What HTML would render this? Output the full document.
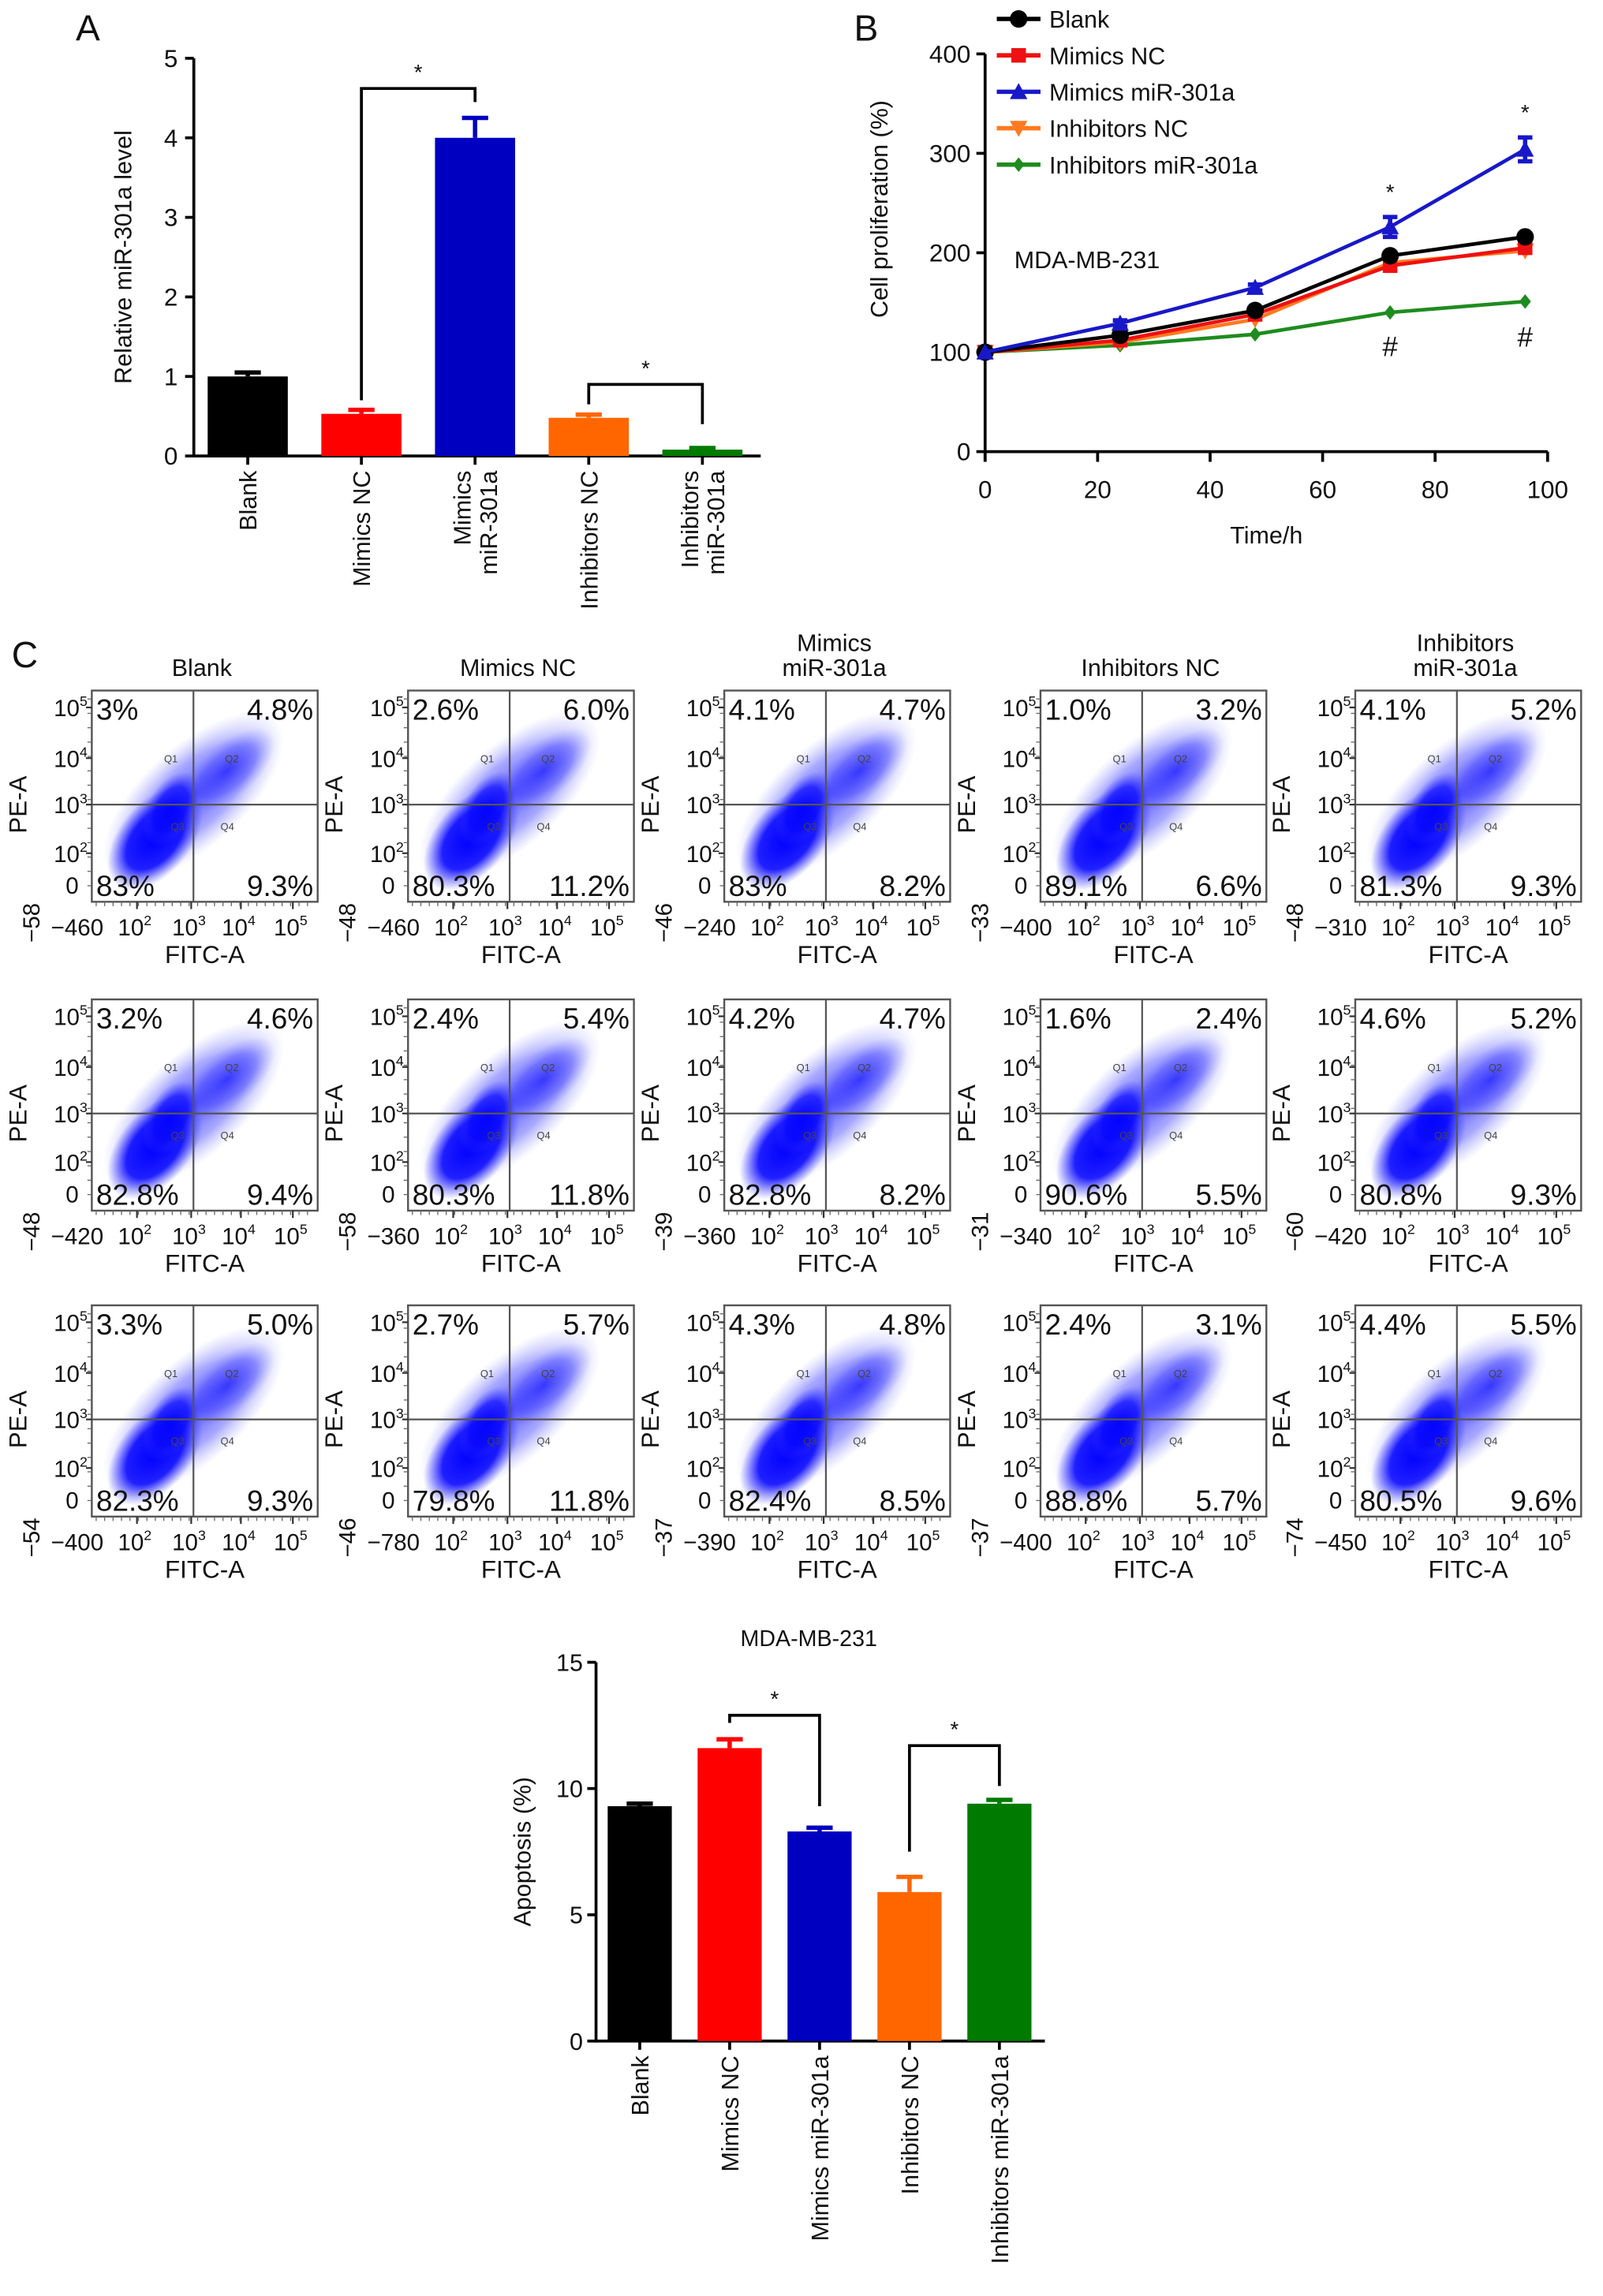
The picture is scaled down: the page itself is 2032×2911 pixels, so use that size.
<!DOCTYPE html>
<html><head><meta charset="utf-8"><style>
html,body{margin:0;padding:0;background:#fff;}
svg{display:block;font-family:"Liberation Sans",Arial,sans-serif;}
</style></head><body>
<svg id="fig" width="2032" height="2911" viewBox="0 0 1100 1576" preserveAspectRatio="none" xmlns="http://www.w3.org/2000/svg">
<defs>
<radialGradient id="core" cx="50%" cy="50%" r="50%"><stop offset="0" stop-color="#0000ff" stop-opacity="1"/><stop offset="0.6" stop-color="#0a0aff" stop-opacity="0.9"/><stop offset="1" stop-color="#3a3aff" stop-opacity="0"/></radialGradient>
<radialGradient id="halo" cx="50%" cy="50%" r="50%"><stop offset="0" stop-color="#1a1aff" stop-opacity="0.75"/><stop offset="0.6" stop-color="#4040ff" stop-opacity="0.45"/><stop offset="1" stop-color="#8080ff" stop-opacity="0"/></radialGradient>
</defs>
</svg>
<script>
// ---------- data ----------
const catsA = ["Blank","Mimics NC","Mimics miR-301a","Inhibitors NC","Inhibitors miR-301a"];
const valsA = [1.0, 0.53, 4.0, 0.48, 0.08];
const errA  = [0.05, 0.05, 0.25, 0.04, 0.02];
const ticksA = [0,1,2,3,4,5];
const colorsA = ["#000000","#ff0000","#0000c0","#ff6600","#007a00"];

const timesB = [0,24,48,72,96];
const blankB = [100,117,142,197,216];
const mimNCB = [100,112,138,187,205];
const mimMiB = [100,129,165,226,304];
const inhNCB = [100,110,133,190,202];
const inhMiB = [100,107,118,140,151];
const errMiB = [0,3,3,10,12];
const ticksBy = [0,100,200,300,400];
const ticksBx = [0,20,40,60,80,100];
const namesB = ["Blank","Mimics NC","Mimics miR-301a","Inhibitors NC","Inhibitors miR-301a"];

const flowTitles = [["Blank"],["Mimics NC"],["Mimics","miR-301a"],["Inhibitors NC"],["Inhibitors","miR-301a"]];
const flowQ1 = [["3%","2.6%","4.1%","1.0%","4.1%"],["3.2%","2.4%","4.2%","1.6%","4.6%"],["3.3%","2.7%","4.3%","2.4%","4.4%"]];
const flowQ2 = [["4.8%","6.0%","4.7%","3.2%","5.2%"],["4.6%","5.4%","4.7%","2.4%","5.2%"],["5.0%","5.7%","4.8%","3.1%","5.5%"]];
const flowQ3 = [["83%","80.3%","83%","89.1%","81.3%"],["82.8%","80.3%","82.8%","90.6%","80.8%"],["82.3%","79.8%","82.4%","88.8%","80.5%"]];
const flowQ4 = [["9.3%","11.2%","8.2%","6.6%","9.3%"],["9.4%","11.8%","8.2%","5.5%","9.3%"],["9.3%","11.8%","8.5%","5.7%","9.6%"]];
const flowYmin = [["58","48","46","33","48"],["48","58","39","31","60"],["54","46","37","37","74"]];
const flowXmin = [["46","46","24","40","31"],["42","36","36","34","42"],["40","78","39","40","45"]];

const catsD = ["Blank","Mimics NC","Mimics miR-301a","Inhibitors NC","Inhibitors miR-301a"];
const valsD = [9.3, 11.6, 8.3, 5.9, 9.4];
const errD  = [0.1, 0.35, 0.15, 0.6, 0.15];
const ticksD = [0,5,10,15];

// ---------- helpers ----------
const svg = document.getElementById('fig');
const NS = "http://www.w3.org/2000/svg";
function el(tag, attrs, parent){
  const e = document.createElementNS(NS, tag);
  for (const k in attrs) e.setAttribute(k, attrs[k]);
  (parent||svg).appendChild(e);
  return e;
}
function txt(s, x, y, size, anchor, parent, extra){
  const t = el('text', Object.assign({x:x,y:y,'font-size':size,'text-anchor':anchor||'start',fill:'#111'}, extra||{}), parent);
  t.textContent = s;
  return t;
}
function group(name){
  const g = el('g', {});
  
  
  return g;
}

// panel letters
[["A",52,28],["B",586,28],["C",8,458]].forEach(p=>{
  const t = txt(p[0], p[1], p[2], 25, 'start');
  
  
});

// ---------- Panel A ----------
(function(){
  const g = group('panel-a-bar-chart');
  const x0 = 133, yTop = 40, yBot = 313, max = 5;
  const y = v => yBot - (v/max)*(yBot-yTop);
  const xc = i => 170 + i*78;
  const bw = 55;
  el('line',{x1:x0,y1:yTop,x2:x0,y2:yBot+1,stroke:'#000','stroke-width':2},g);
  el('line',{x1:x0,y1:yBot,x2:522,y2:yBot,stroke:'#000','stroke-width':2},g);
  ticksA.forEach(t=>{
    el('line',{x1:x0-6,y1:y(t),x2:x0,y2:y(t),stroke:'#000','stroke-width':2},g);
    txt(String(t), x0-11, y(t)+6, 17, 'end', g);
  });
  const yt = txt("Relative miR-301a level", 0, 0, 16.5, 'middle', g, {transform:`translate(90,${(yTop+yBot)/2}) rotate(-90)`});
  
  valsA.forEach((v,i)=>{
    const c = xc(i);
    const top = y(v+errA[i]);
    el('line',{x1:c,y1:y(v),x2:c,y2:top,stroke:colorsA[i],'stroke-width':3},g);
    el('line',{x1:c-9,y1:top,x2:c+9,y2:top,stroke:colorsA[i],'stroke-width':3},g);
    const r = el('rect',{x:c-bw/2,y:y(v),width:bw,height:yBot-y(v),fill:colorsA[i]},g);
    
    
    el('line',{x1:c,y1:yBot,x2:c,y2:yBot+6,stroke:'#000','stroke-width':2},g);
  });
  const labA = [["Blank"],["Mimics NC"],["Mimics","miR-301a"],["Inhibitors NC"],["Inhibitors","miR-301a"]];
  labA.forEach((lines,i)=>{
    const c = xc(i);
    lines.forEach((s,j)=>{
      const off = lines.length===1 ? 6 : (j===0 ? -3 : 15);
      const t = txt(s, 0, 0, 16.5, 'end', g, {transform:`translate(${c+off},${yBot+10}) rotate(-90)`});
      
      
    });
  });
  function bracket(i1,i2,yb,l1,l2){
    el('polyline',{points:`${xc(i1)},${y(l1)} ${xc(i1)},${y(yb)} ${xc(i2)},${y(yb)} ${xc(i2)},${y(l2)}`,fill:'none',stroke:'#000','stroke-width':2},g);
    txt("*", (xc(i1)+xc(i2))/2, y(yb)-6, 15, 'middle', g);
  }
  bracket(1,2,4.62,0.7,4.45);
  bracket(3,4,0.9,0.65,0.4);
})();

// ---------- Panel B ----------
(function(){
  const g = group('panel-b-line-chart');
  const x0 = 676, x1 = 1062, yTop = 37, yBot = 310;
  const X = v => x0 + v/100*(x1-x0);
  const Y = v => yBot - v/400*(yBot-yTop);
  el('line',{x1:x0,y1:yTop,x2:x0,y2:yBot+7,stroke:'#000','stroke-width':2},g);
  el('line',{x1:x0-1,y1:yBot,x2:x1,y2:yBot,stroke:'#000','stroke-width':2},g);
  ticksBy.forEach(t=>{
    el('line',{x1:x0-6,y1:Y(t),x2:x0,y2:Y(t),stroke:'#000','stroke-width':2},g);
    txt(String(t), x0-10, Y(t)+6, 17, 'end', g);
  });
  ticksBx.forEach(t=>{
    el('line',{x1:X(t),y1:yBot,x2:X(t),y2:yBot+7,stroke:'#000','stroke-width':2},g);
    txt(String(t), X(t), yBot+32, 17, 'middle', g);
  });
  const xt = txt("Time/h", (x0+x1)/2, yBot+63, 16.5, 'middle', g); 
  const yt = txt("Cell proliferation (%)", 0, 0, 16.5, 'middle', g, {transform:`translate(609,${(yTop+yBot)/2-30}) rotate(-90)`});
  
  txt("MDA-MB-231", 696, 184, 16.5, 'start', g);

  function marker(kind, cx, cy, color, parent){
    if(kind==='circle') return el('circle',{cx:cx,cy:cy,r:6,fill:color},parent);
    if(kind==='square') return el('rect',{x:cx-5,y:cy-5,width:10,height:10,fill:color},parent);
    if(kind==='tri') return el('polygon',{points:`${cx},${cy-6} ${cx-6},${cy+5} ${cx+6},${cy+5}`,fill:color},parent);
    if(kind==='itri') return el('polygon',{points:`${cx},${cy+6} ${cx-6},${cy-5} ${cx+6},${cy-5}`,fill:color},parent);
    return el('polygon',{points:`${cx},${cy-5} ${cx+4},${cy} ${cx},${cy+5} ${cx-4},${cy}`,fill:color},parent);
  }
  const series = [
    {vals:inhMiB,color:'#1e8c1e',m:'diamond',name:namesB[4]},
    {vals:inhNCB,color:'#ff7a20',m:'itri',name:namesB[3]},
    {vals:mimNCB,color:'#ee1111',m:'square',name:namesB[1]},
    {vals:blankB,color:'#000000',m:'circle',name:namesB[0]},
    {vals:mimMiB,color:'#1818c8',m:'tri',name:namesB[2]}
  ];
  series.forEach(s=>{
    const sg = el('g',{},g);
    
    
    el('polyline',{points:timesB.map((t,i)=>X(t)+','+Y(s.vals[i])).join(' '),fill:'none',stroke:s.color,'stroke-width':2.5},sg);
    timesB.forEach((t,i)=>{
      if(s.vals===mimMiB && errMiB[i]>2){
        const cx=X(t);
        el('line',{x1:cx,y1:Y(s.vals[i]+errMiB[i]),x2:cx,y2:Y(s.vals[i]-errMiB[i]),stroke:s.color,'stroke-width':3},sg);
        el('line',{x1:cx-5,y1:Y(s.vals[i]+errMiB[i]),x2:cx+5,y2:Y(s.vals[i]+errMiB[i]),stroke:s.color,'stroke-width':3},sg);
        el('line',{x1:cx-5,y1:Y(s.vals[i]-errMiB[i]),x2:cx+5,y2:Y(s.vals[i]-errMiB[i]),stroke:s.color,'stroke-width':3},sg);
      }
      marker(s.m, X(t), Y(s.vals[i]), s.color, sg);
    });
  });
  txt("*", X(72), Y(mimMiB[3]+errMiB[3])-12, 15, 'middle', g);
  txt("*", X(96), Y(mimMiB[4]+errMiB[4])-12, 15, 'middle', g);
  txt("#", X(72), Y(inhMiB[3])+30, 19, 'middle', g);
  txt("#", X(96), Y(inhMiB[4])+31, 19, 'middle', g);
  const lg = el('g',{},g);
  
  
  const legOrder = [3,2,4,1,0];
  legOrder.forEach((si,row)=>{
    const s = series[si];
    const ly = 13 + row*25;
    const eg = el('g',{},lg);
    
    
    el('line',{x1:684,y1:ly,x2:714,y2:ly,stroke:s.color,'stroke-width':3},eg);
    marker(s.m, 699, ly, s.color, eg);
    txt(s.name, 720, ly+6, 16.5, 'start', eg);
  });
})();

// ---------- Panel C flow plots ----------
(function(){
  const g = group('panel-c-flow-cytometry');
  const lefts = [63,280,497,714,930];
  const tops = [474,686,896];
  const W = 155, H = 145;
  flowTitles.forEach((lines,c)=>{
    const cx = lefts[c] + W/2 - 2;
    lines.forEach((s,j)=>{
      const t = txt(s, cx, lines.length===1 ? 464 : 447 + j*17, 16.5, 'middle', g);
      
      
    });
  });
  function pow(parent,x,y,e,anchor,size){
    const t = el('text',{x:x,y:y,'font-size':size,'text-anchor':anchor,fill:'#111'},parent);
    const a = el('tspan',{},t); a.textContent='10';
    const b = el('tspan',{dy:-7,'font-size':size*0.6},t); b.textContent=String(e);
    return t;
  }
  tops.forEach((top,r)=>{
    lefts.forEach((left,c)=>{
      const pg = el('g',{},g);
      
      
      const ccx = left + W*0.28, ccy = top + H*0.7;
      el('ellipse',{cx:left+W*0.45,cy:top+H*0.5,rx:W*0.5,ry:H*0.24,fill:'url(#halo)',transform:`rotate(-42 ${left+W*0.45} ${top+H*0.5})`},pg);
      el('ellipse',{cx:left+W*0.6,cy:top+H*0.38,rx:W*0.26,ry:H*0.13,fill:'url(#halo)',transform:`rotate(-40 ${left+W*0.6} ${top+H*0.38})`},pg);
      el('ellipse',{cx:ccx,cy:ccy,rx:W*0.27,ry:H*0.17,fill:'url(#core)',transform:`rotate(-50 ${ccx} ${ccy})`},pg);
      el('ellipse',{cx:ccx+W*0.07,cy:ccy-H*0.14,rx:W*0.18,ry:H*0.11,fill:'url(#core)',opacity:0.8,transform:`rotate(-60 ${ccx+W*0.07} ${ccy-H*0.14})`},pg);
      el('rect',{x:left,y:top,width:W,height:H,fill:'none',stroke:'#555','stroke-width':1.3},pg);
      const qx = left + W*0.45, qy = top + H*0.54;
      el('line',{x1:qx,y1:top,x2:qx,y2:top+H,stroke:'#555','stroke-width':1.2},pg);
      el('line',{x1:left,y1:qy,x2:left+W,y2:qy,stroke:'#555','stroke-width':1.2},pg);
      [["Q1",0.35,0.34],["Q2",0.62,0.34],["Q3",0.38,0.66],["Q4",0.6,0.66]].forEach(q=>{
        txt(q[0], left+W*q[1], top+H*q[2], 7, 'middle', pg, {fill:'#444'});
      });
      txt(flowQ1[r][c], left+3, top+20, 20, 'start', pg);
      txt(flowQ2[r][c], left+W-3, top+20, 20, 'end', pg);
      txt(flowQ3[r][c], left+3, top+H-4, 20, 'start', pg);
      txt(flowQ4[r][c], left+W-3, top+H-4, 20, 'end', pg);
      const yPos = [[5,0.08],[4,0.32],[3,0.54],[2,0.77]];
      yPos.forEach(p=>{
        pow(pg, left-3, top+H*p[1]+6, p[0], 'end', 16);
        el('line',{x1:left-4,y1:top+H*p[1],x2:left,y2:top+H*p[1],stroke:'#333','stroke-width':1.2},pg);
      });
      txt("0", left-9, top+H*0.92+6, 16, 'end', pg);
      for(let k=0;k<14;k++){
        el('line',{x1:left-3,y1:top+H*(0.04+k*0.068),x2:left,y2:top+H*(0.04+k*0.068),stroke:'#666','stroke-width':0.7},pg);
      }
      txt("PE-A", 0, 0, 17, 'middle', pg, {transform:`translate(${left-45},${top+H*0.54}) rotate(-90)`});
      txt("\u2212"+flowYmin[r][c], 0, 0, 16, 'start', pg, {transform:`translate(${left-36},${top+H+28}) rotate(-90)`});
      txt("\u2212"+flowXmin[r][c]+"0", left+8, top+H+23, 16, 'end', pg);
      const xPos = [[2,0.19],[3,0.43],[4,0.65],[5,0.88]];
      xPos.forEach(p=>{
        pow(pg, left+W*p[1], top+H+23, p[0], 'middle', 16);
        el('line',{x1:left+W*(p[1]+0.01),y1:top+H,x2:left+W*(p[1]+0.01),y2:top+H+5,stroke:'#333','stroke-width':1.2},pg);
      });
      for(let k=0;k<26;k++){
        el('line',{x1:left+3+k*5.8,y1:top+H,x2:left+3+k*5.8,y2:top+H+3,stroke:'#666','stroke-width':0.7},pg);
      }
      txt("FITC-A", left+W*0.5, top+H+42, 17, 'middle', pg);
    });
  });
})();

// ---------- Panel D (apoptosis) ----------
(function(){
  const g = group('apoptosis-bar-chart');
  const x0 = 409, yTop = 1141, yBot = 1401, max = 15;
  const y = v => yBot - v/max*(yBot-yTop);
  const xc = i => 439 + i*61.7;
  const bw = 44;
  txt("MDA-MB-231", 555, 1130, 15.5, 'middle', g);
  el('line',{x1:x0,y1:yTop,x2:x0,y2:yBot+1,stroke:'#000','stroke-width':2},g);
  el('line',{x1:x0,y1:yBot,x2:717,y2:yBot,stroke:'#000','stroke-width':2},g);
  ticksD.forEach(t=>{
    el('line',{x1:x0-6,y1:y(t),x2:x0,y2:y(t),stroke:'#000','stroke-width':2},g);
    txt(String(t), x0-9, y(t)+6, 16.5, 'end', g);
  });
  const yt = txt("Apoptosis (%)", 0, 0, 16.5, 'middle', g, {transform:`translate(364,${(yTop+yBot)/2}) rotate(-90)`});
  
  valsD.forEach((v,i)=>{
    const c = xc(i);
    const top = y(v+errD[i]);
    el('line',{x1:c,y1:y(v),x2:c,y2:top,stroke:colorsA[i],'stroke-width':3},g);
    el('line',{x1:c-9,y1:top,x2:c+9,y2:top,stroke:colorsA[i],'stroke-width':3},g);
    const r = el('rect',{x:c-bw/2,y:y(v),width:bw,height:yBot-y(v),fill:colorsA[i]},g);
    
    
    el('line',{x1:c,y1:yBot,x2:c,y2:yBot+6,stroke:'#000','stroke-width':2},g);
    const t = txt(catsD[i], 0, 0, 16.5, 'end', g, {transform:`translate(${c+6},${yBot+10}) rotate(-90)`});
    
    
  });
  function bracket(i1,i2,yb,l1,l2){
    el('polyline',{points:`${xc(i1)},${y(l1)} ${xc(i1)},${y(yb)} ${xc(i2)},${y(yb)} ${xc(i2)},${y(l2)}`,fill:'none',stroke:'#000','stroke-width':2},g);
    txt("*", (xc(i1)+xc(i2))/2, y(yb)-6, 15, 'middle', g);
  }
  bracket(1,2,12.9,12.6,9.3);
  bracket(3,4,11.7,7.5,10.1);
})();
</script>
</body></html>
